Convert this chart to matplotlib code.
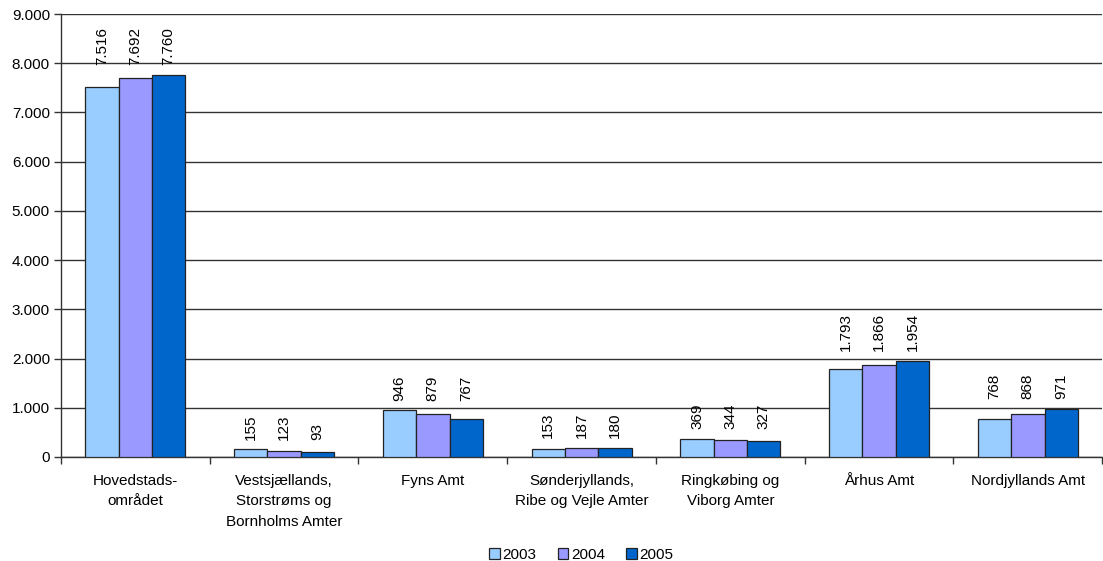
import numpy as np
import matplotlib.pyplot as plt
from matplotlib.ticker import FuncFormatter

plt.rcParams['font.family'] = ['Liberation Sans', 'DejaVu Sans']

regions = ["Hovedstads-\nområdet",
           "Vestsjællands,\nStorstrøms og\nBornholms Amter",
           "Fyns Amt",
           "Sønderjyllands,\nRibe og Vejle Amter",
           "Ringkøbing og\nViborg Amter",
           "Århus Amt",
           "Nordjyllands Amt"]
years = ["2003", "2004", "2005"]
v2003 = [7516, 155, 946, 153, 369, 1793, 768]
v2004 = [7692, 123, 879, 187, 344, 1866, 868]
v2005 = [7760, 93, 767, 180, 327, 1954, 971]
colors = ["#99CCFF", "#9999FF", "#0066CC"]


def dk(v, pos=None):
    # dansk tusindtalsseparator
    return f"{int(v):,}".replace(",", ".")


fig = plt.figure(figsize=(11.03, 5.61), dpi=100)
ax = fig.add_axes([0.0553, 0.1854, 0.944, 0.7896])

x = np.arange(len(regions))
w = 0.224
series = [v2003, v2004, v2005]
for i, vals in enumerate(series):
    ax.bar(x + (i - 1) * w, vals, w, color=colors[i], edgecolor="#222222",
           linewidth=0.9, label=years[i], zorder=3)

# etiketter over søjlerne, samme højde inden for en gruppe
for j in range(len(regions)):
    top = max(s[j] for s in series)
    for i, vals in enumerate(series):
        ax.annotate(dk(vals[j]), (x[j] + (i - 1) * w, top),
                    xytext=(0, 7), textcoords="offset points",
                    rotation=90, ha="center", va="bottom", fontsize=11)

ax.set_xlim(-0.5, len(regions) - 0.5)
ax.set_ylim(0, 9000)
ax.set_yticks(np.arange(0, 9001, 1000))
ax.yaxis.set_major_formatter(FuncFormatter(dk))
ax.grid(axis="y", color="#333333", linewidth=1, zorder=0)

ax.set_xticks(x)
ax.set_xticklabels(regions, fontsize=11, linespacing=1.6)
ax.set_xticks(np.arange(-0.5, len(regions)), minor=True)
ax.tick_params(axis="x", which="major", length=0, pad=12)
ax.tick_params(axis="x", which="minor", length=5, width=1, color="#333333")
ax.tick_params(axis="y", length=5, width=1, color="#333333", labelsize=11, pad=3)

for s in ["top", "right"]:
    ax.spines[s].set_visible(False)
for s in ["left", "bottom"]:
    ax.spines[s].set_color("#333333")
    ax.spines[s].set_linewidth(1)

fig.legend(loc="center", bbox_to_anchor=(0.527, 0.0115), ncol=3, frameon=False,
           fontsize=11, handlelength=0.7, handleheight=0.7, handletextpad=0.15,
           columnspacing=1.4, borderaxespad=0)

fig.savefig("out.png", dpi=100, facecolor="white")
